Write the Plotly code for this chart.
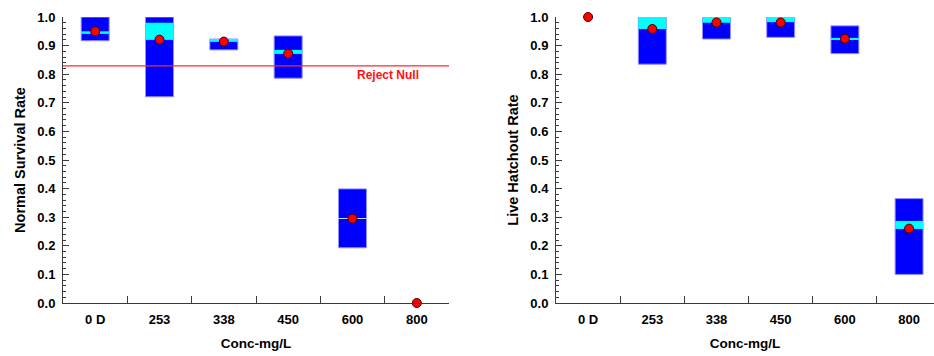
import plotly.graph_objects as go

cats = ["0 D", "253", "338", "450", "600", "800"]

# Left panel: Normal Survival Rate
nsr_box_low = [0.917, 0.721, 0.885, 0.786, 0.193, None]
nsr_box_high = [1.0, 1.0, 0.923, 0.934, 0.399, None]
nsr_band_low = [0.941, 0.920, 0.913, 0.871, 0.294, None]
nsr_band_high = [0.950, 0.980, 0.923, 0.885, 0.296, None]
nsr_mean = [0.950, 0.921, 0.914, 0.872, 0.295, 0.0]
reject_null = 0.829

# Right panel: Live Hatchout Rate
lhr_box_low = [None, 0.835, 0.923, 0.929, 0.872, 0.100]
lhr_box_high = [None, 1.0, 1.0, 1.0, 0.969, 0.365]
lhr_band_low = [None, 0.958, 0.980, 0.982, 0.922, 0.259]
lhr_band_high = [None, 1.0, 1.0, 1.0, 0.927, 0.287]
lhr_mean = [1.0, 0.958, 0.981, 0.981, 0.924, 0.260]

y_ticks = [0.0, 0.1, 0.2, 0.3, 0.4, 0.5, 0.6, 0.7, 0.8, 0.9, 1.0]

FONT = "Liberation Sans"
AXC = "#3a3a3a"
W = 934


def heights(lo, hi):
    return [None if (a is None or b is None) else b - a for a, b in zip(lo, hi)]


fig = go.Figure()


def add_panel(xa, ya, box_lo, box_hi, band_lo, band_hi, mean, band_colors):
    fig.add_trace(go.Bar(x=cats, y=heights(box_lo, box_hi), base=box_lo, width=0.435,
                         marker=dict(color="#0000FF", line=dict(color="#8f8fff", width=1)),
                         xaxis=xa, yaxis=ya, showlegend=False, hoverinfo="skip"))
    fig.add_trace(go.Bar(x=cats, y=heights(band_lo, band_hi), base=band_lo, width=0.435,
                         marker=dict(color=band_colors, line=dict(width=0)),
                         xaxis=xa, yaxis=ya, showlegend=False, hoverinfo="skip"))
    fig.add_trace(go.Scatter(x=cats, y=mean, mode="markers", cliponaxis=False,
                             marker=dict(color="#FF0000", size=9, line=dict(color="#400000", width=1)),
                             xaxis=xa, yaxis=ya, showlegend=False))


add_panel("x", "y", nsr_box_low, nsr_box_high, nsr_band_low, nsr_band_high, nsr_mean,
          ["#00FFFF"] * 4 + ["#c8d8ff", "#00FFFF"])
add_panel("x2", "y2", lhr_box_low, lhr_box_high, lhr_band_low, lhr_band_high, lhr_mean,
          ["#00FFFF"] * 6)

tickfont = dict(family=FONT, size=13, color="#000000", weight="bold")
xtitlefont = dict(family=FONT, size=13.5, color="#000000", weight="bold")
ytitlefont = dict(family=FONT, size=14.5, color="#000000", weight="bold")

xcommon = dict(type="category", tickson="boundaries", ticks="inside", ticklen=7,
               tickcolor=AXC, showline=True, linecolor=AXC, linewidth=1,
               showgrid=False, zeroline=False, tickfont=tickfont,
               ticklabelstandoff=4,
               title=dict(text="Conc-mg/L", font=xtitlefont, standoff=12))
ycommon = dict(range=[0, 1.0], tickvals=y_ticks, tickformat=".1f", ticks="inside", ticklen=6,
               tickcolor=AXC, showline=True, linecolor=AXC, linewidth=1,
               showgrid=False, zeroline=False, tickfont=tickfont,
               ticklabelstandoff=4,
               minor=dict(dtick=0.02, ticks="inside", ticklen=3, tickcolor=AXC, showgrid=False))

fig.update_layout(
    width=W, height=356,
    margin=dict(l=0, r=0, t=17, b=53),
    plot_bgcolor="white", paper_bgcolor="white",
    barmode="overlay",
    xaxis=dict(domain=[63 / W, 449 / W], range=[-0.5, 5.5], anchor="y", **xcommon),
    yaxis=dict(anchor="x", title=dict(text="Normal Survival Rate", font=ytitlefont, standoff=8), **ycommon),
    xaxis2=dict(domain=[556 / W, 1.0], range=[-0.5, 5.388], anchor="y2", **xcommon),
    yaxis2=dict(anchor="x2", title=dict(text="Live Hatchout Rate", font=ytitlefont, standoff=8), **ycommon),
    shapes=[dict(type="line", xref="x domain", yref="y", x0=0, x1=1, y0=reject_null, y1=reject_null,
                 line=dict(color="#ff2a2a", width=1.3))],
    annotations=[dict(text="Reject Null", x=5.07, y=reject_null - 0.002, xref="x", yref="y",
                      xanchor="right", yanchor="top", showarrow=False,
                      font=dict(family=FONT, size=12, color="#ff1010", weight="bold"))],
)

fig.write_html("out.html")
